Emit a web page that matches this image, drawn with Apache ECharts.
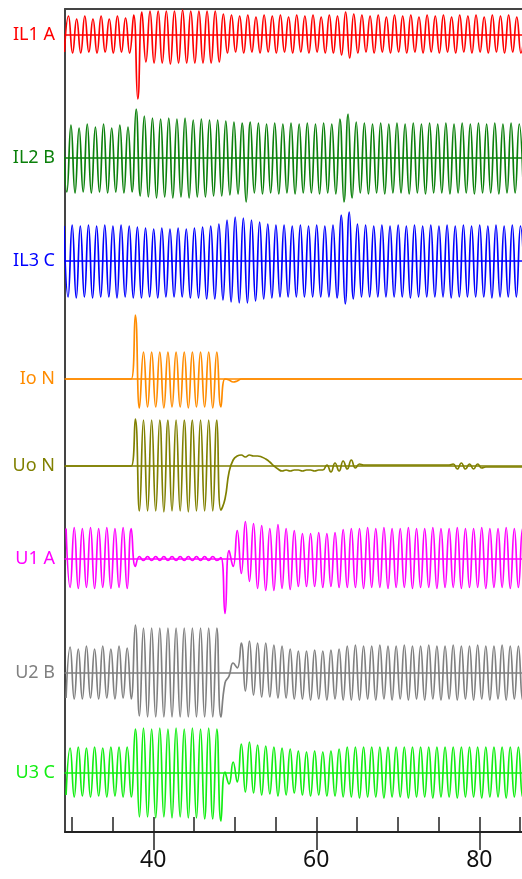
<!DOCTYPE html>
<html>
<head>
<meta charset="utf-8">
<title>Disturbance record</title>
<script src="https://cdn.jsdelivr.net/npm/echarts@6/dist/echarts.min.js"></script>
<style>
  html, body { margin: 0; padding: 0; background: #fff; }
  #chart { width: 522px; height: 879px; }
</style>
</head>
<body>
<div id="chart"></div>
<script>
// channel names, top to bottom
const channelNames = ['IL1 A', 'IL2 B', 'IL3 C', 'Io N', 'Uo N', 'U1 A', 'U2 B', 'U3 C']
// time of the first sample of each channel, samples every half period (peaks)
const sampleStart = [29.1, 28.9, 29.05, 29.3, 29.3, 29.3, 29.3, 29.3]
const halfPeriod = 0.5
const majorTicks = [40, 60, 80]
const minorTicks = [30, 35, 40, 45, 50, 55, 60, 65, 70, 75, 80, 85]

// peak values (one value per half period)
const il1A = [
  -17, 19, -18, 16, -18, 19, -17, 16, -18, 19,
  -17, 16, -18, 19, -17, 17, -18, 20, -64, 23,
  -27, 24, -28, 24, -28, 24, -29, 24, -28, 25,
  -28, 24, -28, 24, -28, 24, -28, 24, -27, 21,
  -18, 20, -17, 19, -18, 20, -17, 18, -18, 20,
  -17, 19, -18, 20, -17, 18, -18, 20, -17, 19,
  -18, 20, -17, 18, -18, 20, -18, 19, -20, 23,
  -23, 21, -18, 20, -17, 19, -18, 20, -17, 18,
  -18, 20, -17, 19, -18, 20, -17, 18, -18, 20,
  -17, 19, -18, 20, -17, 18, -18, 20, -17, 19,
  -18, 20, -17, 18, -18, 20, -17, 19, -18, 20,
  -17, 18, -18, 20
]
const il2B = [
  32, -34, 33, -35, 30, -34, 34, -35, 31, -34,
  34, -35, 30, -34, 33, -35, 31, -34, 49, -38,
  42, -39, 40, -40, 39, -39, 40, -40, 39, -39,
  40, -40, 38, -39, 39, -39, 38, -38, 38, -38,
  37, -37, 36, -36, 35, -44, 36, -35, 35, -36,
  34, -35, 35, -36, 34, -35, 35, -36, 34, -35,
  35, -35, 34, -36, 35, -35, 34, -36, 39, -44,
  44, -40, 36, -35, 35, -36, 34, -35, 35, -36,
  34, -35, 35, -35, 34, -36, 35, -35, 34, -36,
  35, -35, 34, -35, 35, -36, 34, -35, 35, -35,
  34, -36, 35, -35, 34, -35, 35, -36, 34, -35,
  35, -35, 34, -35
]
const il3C = [
  35, -36, 36, -37, 35, -36, 36, -37, 35, -36,
  36, -36, 35, -37, 36, -36, 35, -37, 34, -37,
  33, -36, 32, -37, 33, -36, 32, -36, 33, -36,
  32, -37, 33, -37, 34, -38, 35, -38, 37, -39,
  41, -41, 44, -42, 43, -42, 41, -40, 39, -38,
  37, -37, 36, -36, 36, -36, 35, -36, 36, -36,
  35, -36, 36, -36, 35, -36, 36, -37, 46, -43,
  49, -38, 37, -36, 36, -36, 35, -36, 36, -36,
  35, -36, 36, -36, 35, -37, 36, -36, 35, -36,
  36, -36, 35, -36, 36, -37, 35, -36, 36, -36,
  35, -36, 36, -36, 35, -37, 36, -36, 35, -36,
  36, -36, 35, -36
]
const ioN = [
  0, 0, 0, 0, 0, 0, 0, 0, 0, 0,
  0, 0, 0, 0, 0, 0, 0, 64, -29, 27,
  -28, 27, -28, 27, -29, 27, -28, 27, -28, 27,
  -29, 27, -28, 27, -28, 27, -29, 27, -28, 0,
  -1, -3, -2, 0, 0, 0, 0, 0, 0, 0,
  0, 0, 0, 0, 0, 0, 0, 0, 0, 0,
  0, 0, 0, 0, 0, 0, 0, 0, 0, 0,
  0, 0, 0, 0, 0, 0, 0, 0, 0, 0,
  0, 0, 0, 0, 0, 0, 0, 0, 0, 0,
  0, 0, 0, 0, 0, 0, 0, 0, 0, 0,
  0, 0, 0, 0, 0, 0, 0, 0, 0, 0,
  0, 0, 0, 0
]
const uoN = [
  0, 0, 0, 0, 0, 0, 0, 0, 0, 0,
  0, 0, 0, 0, 0, 0, 0, 47, -45, 46,
  -45, 46, -45, 46, -46, 46, -45, 46, -45, 46,
  -46, 46, -45, 46, -45, 46, -45, 46, -44, -33,
  -6, 6, 10, 11, 9, 11, 10, 10, 9, 7,
  4, 0, -3, -5, -4, -5, -4, -4, -5, -4,
  -4, -5, -4, -4, 1, -6, 3, -5, 5, -3,
  6, -2, 2, 1, 1, 1, 1, 1, 1, 1,
  1, 1, 1, 1, 1, 1, 1, 1, 1, 1,
  1, 1, 1, 1, 1, 2, -3, 3, -3, 2,
  -3, 2, -2, -1, -1, -1, -1, -1, -1, -1,
  -1, -1, -1, -1
]
const u1A = [
  30, -29, 31, -30, 30, -29, 31, -30, 30, -29,
  31, -30, 30, -29, 31, -30, 30, -8, 2, -2,
  2, -2, 2, -2, 2, -2, 2, -2, 2, -2,
  2, -2, 2, -2, 2, -2, 2, -2, 1, -55,
  8, -8, 28, -15, 37, -23, 35, -30, 33, -32,
  30, -32, 34, -30, 30, -31, 28, -28, 25, -28,
  25, -28, 26, -29, 25, -28, 26, -29, 29, -29,
  30, -29, 30, -30, 31, -29, 30, -29, 31, -30,
  30, -29, 30, -29, 31, -30, 30, -29, 30, -29,
  31, -30, 30, -29, 30, -29, 31, -30, 30, -29,
  30, -29, 31, -30, 30, -29, 30, -29, 31, -30,
  30, -29, 30, -29
]
const u2B = [
  -25, 26, -26, 24, -26, 27, -25, 24, -26, 27,
  -25, 24, -26, 27, -25, 25, -26, 48, -43, 45,
  -44, 45, -44, 45, -44, 45, -44, 45, -44, 45,
  -44, 45, -44, 45, -44, 45, -44, 45, -44, -10,
  -3, 10, 5, 30, -18, 32, -22, 30, -24, 30,
  -24, 28, -25, 27, -25, 24, -26, 22, -26, 22,
  -27, 23, -26, 22, -27, 23, -26, 24, -27, 27,
  -27, 28, -27, 27, -26, 27, -27, 28, -26, 27,
  -27, 27, -26, 28, -27, 27, -26, 27, -27, 28,
  -26, 27, -27, 27, -26, 28, -27, 27, -26, 27,
  -27, 28, -26, 27, -27, 27, -26, 28, -27, 27,
  -26, 27, -27, 28
]
const u3C = [
  -22, 25, -24, 26, -23, 25, -24, 26, -23, 25,
  -24, 26, -23, 26, -24, 26, -24, 44, -44, 45,
  -44, 44, -45, 45, -44, 44, -45, 45, -44, 44,
  -45, 45, -45, 44, -46, 45, -46, 44, -48, 1,
  -11, 11, -9, 29, -19, 31, -20, 28, -22, 27,
  -21, 26, -23, 25, -22, 24, -20, 22, -22, 21,
  -23, 22, -22, 21, -23, 22, -23, 24, -24, 26,
  -24, 26, -25, 26, -24, 26, -24, 26, -25, 26,
  -24, 26, -24, 26, -25, 26, -24, 26, -24, 26,
  -25, 26, -24, 26, -24, 26, -25, 26, -24, 26,
  -24, 26, -25, 26, -24, 26, -24, 26, -25, 26,
  -24, 26, -24, 26
]
const channelData = [il1A, il2B, il3C, ioN, uoN, u1A, u2B, u3C]

// styles and layout
const colors = ['#ff0000', '#0b800b', '#0000ff', '#ff8c00', '#808000', '#ff00ff', '#808080', '#12ee12']
const baselines = [35, 158, 261, 379, 466, 558.5, 673, 773]
const xMin = 29.17
const xMax = 85.24
const font = 'Noto Sans'

const chart = echarts.init(document.getElementById('chart'))

const grid = [{ left: 65, right: 0, top: 9, bottom: 47 }]
const xAxis = [
  { // major ticks + labels
    gridIndex: 0, type: 'value', min: xMin, max: xMax, position: 'bottom',
    axisLine: { show: true, onZero: false, lineStyle: { color: '#222', width: 2 } },
    axisTick: { show: true, customValues: majorTicks, length: 18, lineStyle: { color: '#222', width: 1.5 } },
    axisLabel: { show: true, customValues: majorTicks, margin: 17, color: '#111', fontSize: 23, fontFamily: font },
    splitLine: { show: false }
  },
  { // minor ticks pointing into the plot
    gridIndex: 0, type: 'value', min: xMin, max: xMax, position: 'bottom',
    axisLine: { show: false, onZero: false },
    axisTick: { show: true, customValues: minorTicks, inside: true, length: 15, lineStyle: { color: '#222', width: 1.5 } },
    axisLabel: { show: false },
    splitLine: { show: false }
  },
  { // top border
    gridIndex: 0, type: 'value', min: xMin, max: xMax, position: 'top',
    axisLine: { show: true, onZero: false, lineStyle: { color: '#444', width: 2 } },
    axisTick: { show: false }, axisLabel: { show: false }, splitLine: { show: false }
  }
]
const yAxis = [{
  gridIndex: 0, type: 'value', min: 0, max: 1, position: 'left',
  axisLine: { show: true, onZero: false, lineStyle: { color: '#444', width: 2 } },
  axisTick: { show: false }, axisLabel: { show: false }, splitLine: { show: false }
}]
const series = []

channelNames.forEach((name, c) => {
  // room above the baseline, kept inside the canvas
  const up = Math.min(70, baselines[c])
  grid.push({ left: 65, right: 0, top: baselines[c] - up, height: up + 70 })
  xAxis.push({
    gridIndex: c + 1, type: 'value', min: xMin, max: xMax, z: 3,
    axisLine: { show: true, onZero: true, lineStyle: { color: colors[c], width: 1.5 } },
    axisTick: { show: false }, axisLabel: { show: false }, splitLine: { show: false }
  })
  yAxis.push({
    gridIndex: c + 1, type: 'value', min: -70, max: up,
    axisLine: { show: false }, axisTick: { show: false }, splitLine: { show: false },
    // channel name sits on the zero line
    axisLabel: {
      show: true, customValues: [0], formatter: () => name, margin: 10,
      color: colors[c], fontSize: 18, fontFamily: font
    }
  })
  series.push({
    name: name,
    type: 'line',
    xAxisIndex: c + 3,
    yAxisIndex: c + 1,
    data: channelData[c].map((v, k) => [sampleStart[c] + k * halfPeriod, v]),
    showSymbol: false,
    smooth: 0.5,
    clip: true,
    lineStyle: { color: colors[c], width: 1.7 }
  })
})

chart.setOption({
  animation: false,
  grid: grid,
  xAxis: xAxis,
  yAxis: yAxis,
  series: series
})
</script>
</body>
</html>
